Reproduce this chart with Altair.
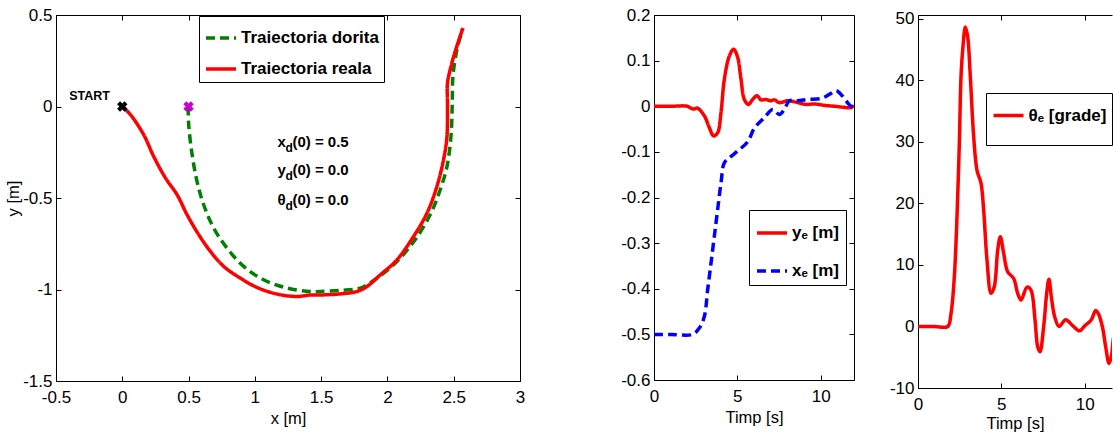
import altair as alt
import pandas as pd

FONT = "'Liberation Sans', Arial, sans-serif"
RED = "#ff0000"
GREEN = "#008000"
BLUE = "#0000ff"
MAGENTA = "#cc00cc"

# ---------------- left panel: trajectories ----------------
LEFT_SERIES = ["Traiectoria dorita", "Traiectoria reala"]
des_x = [0.497, 0.501, 0.527, 0.564, 0.614, 0.69, 0.79, 0.916, 1.066, 1.243, 1.418,
         1.492, 1.643, 1.795, 1.921, 2.072, 2.209, 2.322, 2.398, 2.449, 2.479, 2.489,
         2.494, 2.524, 2.569]
des_y = [0.0, -0.1, -0.264, -0.41, -0.537, -0.665, -0.774, -0.874, -0.947, -0.992, -1.011,
         -1.011, -1.005, -0.992, -0.938, -0.847, -0.728, -0.592, -0.455, -0.328, -0.164, 0.018,
         0.164, 0.31, 0.428]
real_x = [0.0, 0.062, 0.162, 0.237, 0.326, 0.414, 0.489, 0.577, 0.665, 0.765, 0.891, 1.017,
          1.167, 1.318, 1.418, 1.492, 1.643, 1.769, 1.845, 1.946, 2.072, 2.197, 2.298, 2.373,
          2.423, 2.449, 2.453, 2.453, 2.486, 2.511, 2.569]
real_y = [0.0, -0.045, -0.155, -0.273, -0.391, -0.483, -0.592, -0.701, -0.792, -0.874, -0.938,
          -0.989, -1.025, -1.038, -1.03, -1.03, -1.024, -1.011, -0.984, -0.92, -0.838, -0.71,
          -0.583, -0.437, -0.291, -0.164, 0.018, 0.128, 0.237, 0.301, 0.428]
start_pt = [0.0, 0.0]
des0_pt = [0.5, 0.0]
start_label = ["START"]
start_label_pos = [-0.40, 0.033]
ann_x = 1.17
ann_y = [-0.219, -0.377, -0.536]
ann_sym = ["x", "y", "θ"]
ann_sub = ["d", "d", "d"]
ann_rest = ["(0) = 0.5", "(0) = 0.0", "(0) = 0.0"]
LX_DOM = [-0.5, 3]
LY_DOM = [-1.5, 0.5]
LX_TICKS = [-0.5, 0, 0.5, 1, 1.5, 2, 2.5, 3]
LY_TICKS = [-1.5, -1, -0.5, 0, 0.5]

# ---------------- middle panel: position errors ----------------
MID_SERIES = ["yₑ [m]", "xₑ [m]"]
t_ye = [0, 1, 2.0, 2.2, 2.4, 2.6, 3.02, 3.32, 3.58, 3.82, 4.02, 4.22, 4.52, 4.78, 5.02, 5.22,
        5.42, 5.66, 5.92, 6.18, 6.42, 6.72, 6.98, 7.22, 7.52, 8.02, 8.62, 9.12, 9.62, 10.22,
        10.82, 11.32, 11.82, 12.0]
ye = [0, 0, 0, -0.004, -0.006, -0.004, -0.021, -0.047, -0.065, -0.058, -0.014, 0.059, 0.11,
      0.125, 0.107, 0.059, 0.015, 0.004, 0.015, 0.023, 0.014, 0.015, 0.012, 0.014, 0.008,
      0.012, 0.008, 0.004, 0.005, 0.002, 0.0, -0.002, -0.003, 0.002]
t_xe = [0, 1, 2.32, 2.72, 3.02, 3.22, 3.42, 3.62, 3.82, 4.02, 4.22, 4.52, 5.02, 5.62, 6.02,
        6.62, 7.12, 7.52, 7.82, 8.12, 8.62, 9.22, 10.02, 10.52, 10.92, 11.22, 11.52, 11.82, 12.0]
xe = [-0.5, -0.5, -0.5, -0.486, -0.461, -0.402, -0.344, -0.285, -0.226, -0.168, -0.124,
      -0.113, -0.098, -0.078, -0.048, -0.025, -0.007, -0.018, -0.007, 0.012, 0.012, 0.015,
      0.017, 0.026, 0.034, 0.026, 0.012, 0.0, -0.002]
MX_DOM = [0, 12]
MY_DOM = [-0.6, 0.2]
MX_TICKS = [0, 5, 10]
MY_TICKS = [-0.6, -0.5, -0.4, -0.3, -0.2, -0.1, 0, 0.1, 0.2]

# ---------------- right panel: heading error ----------------
RIGHT_SERIES = ["θₑ [grade]"]
t_th = [0, 1, 1.78, 1.98, 2.18, 2.34, 2.48, 2.58, 2.68, 2.84, 2.98, 3.14, 3.34, 3.54, 3.78,
        3.94, 4.14, 4.38, 4.58, 4.78, 4.94, 5.14, 5.38, 5.74, 5.98, 6.18, 6.54, 6.78, 7.02,
        7.18, 7.32, 7.54, 7.74, 7.86, 8.0, 8.2, 8.46, 8.86, 9.26, 9.7, 10.0, 10.4, 10.66,
        10.82, 11.06, 11.26, 11.46, 11.6, 11.74, 12.0]
th = [0, 0, 0, 2.1, 8.1, 17.9, 29.8, 40.6, 44.9, 48.7, 47.1, 40.6, 30.9, 25.4, 23.3, 18.9,
      10.8, 5.4, 6.5, 12.4, 14.6, 11.9, 8.9, 7.8, 5.4, 4.3, 6.4, 5.9, 1.1, -3.3, -4.1, 0.0,
      5.9, 7.7, 4.8, 1.6, 0.0, 1.1, 0.2, -0.7, 0.1, 1.1, 2.6, 2.1, 0.0, -3.3, -6.0, -4.9,
      -1.7, 1.0]
RX_DOM = [0, 11.64]
RY_DOM = [-10, 50.65]
RX_TICKS = [0, 5, 10]
RY_TICKS = [-10, 0, 10, 20, 30, 40, 50]

LABEL_EXPR = "datum.value < 0 ? '-' + format(-datum.value, '~g') : format(datum.value, '~g')"


def mk_axis(orient, title=None, values=None, show_labels=True, label_pad=9, title_pad=4):
    kw = dict(orient=orient, values=values, labels=show_labels, ticks=True,
              tickSize={"expr": "-5"}, tickColor="black", tickWidth=1,
              domain=True, domainColor="black", domainWidth=1, grid=False,
              labelFont=FONT, labelFontSize=17, labelColor="black", labelPadding=label_pad,
              labelExpr=LABEL_EXPR, labelFlush=False, labelOverlap=False,
              titleFont=FONT, titleFontSize=16.5, titleFontWeight="normal", titleColor="black",
              titlePadding=title_pad)
    kw["title"] = title
    return alt.Axis(**kw)


def mk_legend(lx, ly, row_pad, pad, symbol="stroke"):
    return alt.Legend(orient="none", legendX=lx, legendY=ly, title=None, direction="vertical",
                      fillColor="white", strokeColor="black", padding=pad, rowPadding=row_pad,
                      labelFont=FONT, labelFontSize=17, labelFontWeight="bold", labelColor="black",
                      labelLimit=400, labelOffset=3, symbolType=symbol, symbolSize=900,
                      symbolStrokeWidth=3.5)


def panel(main_layers, xdom, ydom, xticks, yticks, w, h, right_frame=True):
    fx = alt.X("x:Q", scale=alt.Scale(domain=xdom, nice=False, zero=False),
               axis=mk_axis("top", values=xticks, show_labels=False))
    if right_frame:
        fy = alt.Y("y:Q", scale=alt.Scale(domain=ydom, nice=False, zero=False),
                   axis=mk_axis("right", values=yticks, show_labels=False))
    else:
        fy = alt.Y("y:Q", scale=alt.Scale(domain=ydom, nice=False, zero=False), axis=None)
    frame = alt.Chart(pd.DataFrame({"x": [xdom[0]], "y": [ydom[0]]})).mark_point(
        opacity=0).encode(x=fx, y=fy)
    return alt.layer(alt.layer(*main_layers), frame).resolve_axis(
        x="independent", y="independent").properties(width=w, height=h)


def enc_xy(xdom, ydom, xticks, yticks, xtitle, ytitle, xtitle_pad=5):
    ex = alt.X("x:Q", scale=alt.Scale(domain=xdom, nice=False, zero=False),
               axis=mk_axis("bottom", title=xtitle, values=xticks, label_pad=13, title_pad=xtitle_pad))
    ey = alt.Y("y:Q", scale=alt.Scale(domain=ydom, nice=False, zero=False),
               axis=mk_axis("left", title=ytitle, values=yticks, label_pad=9, title_pad=1))
    return ex, ey


LINE = dict(strokeWidth=3.5, clip=True, interpolate="catmull-rom")

# ----- left panel -----
lx, ly = enc_xy(LX_DOM, LY_DOM, LX_TICKS, LY_TICKS, "x [m]", "y [m]")
traj_df = pd.concat([
    pd.DataFrame({"x": des_x, "y": des_y, "series": LEFT_SERIES[0], "idx": range(len(des_x))}),
    pd.DataFrame({"x": real_x, "y": real_y, "series": LEFT_SERIES[1], "idx": range(len(real_x))}),
])
leg_l = mk_legend(143, 1, 6, 5)
traj = alt.Chart(traj_df).mark_line(**LINE).encode(
    x=lx, y=ly,
    color=alt.Color("series:N", scale=alt.Scale(domain=LEFT_SERIES, range=[GREEN, RED]), legend=leg_l),
    strokeDash=alt.StrokeDash("series:N", scale=alt.Scale(domain=LEFT_SERIES, range=[[9, 5], [1, 0]]),
                              legend=leg_l),
    order="idx:Q",
)
m_start = alt.Chart(pd.DataFrame({"x": [start_pt[0]], "y": [start_pt[1]]})).mark_point(
    shape="cross", angle=45, filled=True, size=110, color="black", opacity=1).encode(x=lx, y=ly)
m_des = alt.Chart(pd.DataFrame({"x": [des0_pt[0]], "y": [des0_pt[1]]})).mark_point(
    shape="cross", angle=45, filled=True, size=110, color=MAGENTA, opacity=1).encode(x=lx, y=ly)
start_txt = alt.Chart(pd.DataFrame({"x": [start_label_pos[0]], "y": [start_label_pos[1]],
                                    "t": start_label})).mark_text(
    align="left", baseline="alphabetic", font=FONT, fontSize=12.5, fontWeight="bold", color="black"
).encode(x=lx, y=ly, text="t:N")
ann_df = pd.DataFrame({"x": [ann_x] * 3, "y": ann_y, "s": ann_sym, "d": ann_sub, "r": ann_rest})
ann_sym_l = alt.Chart(ann_df).mark_text(align="left", baseline="alphabetic", font=FONT, fontSize=15,
                                        fontWeight="bold", color="black").encode(x=lx, y=ly, text="s:N")
ann_sub_l = alt.Chart(ann_df).mark_text(align="left", baseline="alphabetic", font=FONT, fontSize=12,
                                        fontWeight="bold", color="black", dx=8, dy=5).encode(
    x=lx, y=ly, text="d:N")
ann_rest_l = alt.Chart(ann_df).mark_text(align="left", baseline="alphabetic", font=FONT, fontSize=15,
                                         fontWeight="bold", color="black", dx=15).encode(
    x=lx, y=ly, text="r:N")
left = panel([traj, m_start, m_des, start_txt, ann_sym_l, ann_sub_l, ann_rest_l],
             LX_DOM, LY_DOM, LX_TICKS, LY_TICKS, 464, 366)

# ----- middle panel -----
mx, my = enc_xy(MX_DOM, MY_DOM, MX_TICKS, MY_TICKS, "Timp [s]", None)
err_df = pd.concat([
    pd.DataFrame({"x": t_ye, "y": ye, "series": MID_SERIES[0], "idx": range(len(t_ye))}),
    pd.DataFrame({"x": t_xe, "y": xe, "series": MID_SERIES[1], "idx": range(len(t_xe))}),
])
leg_m = mk_legend(95, 195, 13, 6)
err = alt.Chart(err_df).mark_line(**LINE).encode(
    x=mx, y=my,
    color=alt.Color("series:N", scale=alt.Scale(domain=MID_SERIES, range=[RED, BLUE]), legend=leg_m),
    strokeDash=alt.StrokeDash("series:N", scale=alt.Scale(domain=MID_SERIES, range=[[1, 0], [9, 5]]),
                              legend=leg_m),
    order="idx:Q",
)
mid = panel([err], MX_DOM, MY_DOM, MX_TICKS, MY_TICKS, 200, 365)

# ----- right panel -----
rx, ry = enc_xy(RX_DOM, RY_DOM, RX_TICKS, RY_TICKS, "Timp [s]", None, xtitle_pad=3)
th_df = pd.DataFrame({"x": t_th, "y": th, "series": RIGHT_SERIES[0], "idx": range(len(t_th))})
leg_r = mk_legend(68, 78, 0, 5.5, symbol="M-1,0L1,0M-1,-1.1M-1,1.1")
thl = alt.Chart(th_df).mark_line(**LINE).encode(
    x=rx, y=ry,
    color=alt.Color("series:N", scale=alt.Scale(domain=RIGHT_SERIES, range=[RED]), legend=leg_r),
    order="idx:Q",
)
right = panel([thl], RX_DOM, RY_DOM, RX_TICKS, RY_TICKS, 194, 373, right_frame=False)

inner = alt.hconcat(mid, right, spacing=34).resolve_scale(color="independent", strokeDash="independent")
chart = alt.hconcat(left, inner, spacing=95).resolve_scale(
    color="independent", strokeDash="independent"
).properties(
    padding={"left": 5, "top": 6, "right": 0, "bottom": 0},
    background="white",
).configure_view(stroke=None)

chart.save("out.html", embed_options={"renderer": "svg", "actions": False})
